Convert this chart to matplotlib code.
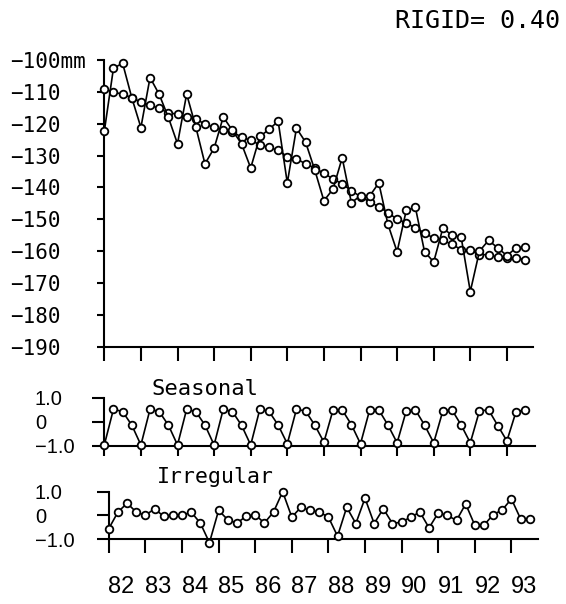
import numpy as np
import matplotlib.pyplot as plt

# quarterly data, 1982 Q1 .. 1993 Q3 (47 points)
years = np.arange(82, 94)

observed = [-122.4, -102.6, -101.0, -111.8, -121.2, -105.5, -110.8, -118.0,
            -126.3, -110.7, -121.0, -132.6, -127.7, -117.9, -122.1, -126.3,
            -133.9, -124.0, -121.8, -119.2, -138.6, -121.4, -125.8, -134.5,
            -144.2, -140.5, -130.7, -144.8, -142.6, -142.7, -138.6, -151.6,
            -160.2, -147.2, -146.3, -160.2, -163.4, -152.8, -155.0, -155.6,
            -172.7, -160.0, -156.6, -159.0, -161.4, -159.0, -158.7]

trend = [-109.2, -110.0, -110.8, -111.8, -113.2, -114.2, -115.2, -116.6,
         -117.0, -117.9, -118.4, -120.2, -121.1, -122.1, -122.6, -124.2,
         -125.2, -126.6, -127.4, -128.4, -130.3, -131.0, -132.6, -133.9,
         -135.6, -137.3, -138.9, -141.0, -142.9, -144.5, -146.1, -147.9,
         -150.0, -151.1, -152.8, -154.2, -156.0, -156.6, -157.9, -159.5,
         -159.8, -161.1, -161.1, -161.9, -162.3, -162.1, -162.7]

seasonal = [-0.97, 0.52, 0.42, -0.14,
            -0.97, 0.52, 0.42, -0.14,
            -0.97, 0.52, 0.42, -0.14,
            -0.97, 0.52, 0.42, -0.15,
            -0.97, 0.52, 0.43, -0.14,
            -0.92, 0.52, 0.44, -0.14,
            -0.85, 0.49, 0.49, -0.12,
            -0.92, 0.49, 0.49, -0.14,
            -0.88, 0.45, 0.49, -0.14,
            -0.88, 0.45, 0.49, -0.14,
            -0.88, 0.45, 0.49, -0.16,
            -0.80, 0.42, 0.49]

irregular = [-0.55, 0.14, 0.51, 0.14, 0.0, 0.28, -0.04, 0.03, 0.0, 0.14,
             -0.32, -1.14, 0.21, -0.18, -0.32, -0.04, 0.03, -0.32, 0.14, 0.99,
             -0.07, 0.34, 0.21, 0.14, -0.07, -0.87, 0.34, -0.34, 0.72, -0.34,
             0.28, -0.34, -0.28, -0.07, 0.14, -0.52, 0.1, 0.0, -0.21, 0.48,
             -0.41, -0.41, 0.03, 0.23, 0.69, -0.14, -0.14]

t = 82 + np.arange(len(observed)) / 4

W, H = 566, 604
fig = plt.figure(figsize=(W / 100, H / 100), dpi=100)
sans = ['Liberation Sans', 'DejaVu Sans']
mono = ['DejaVu Sans Mono']
PT = 0.72  # px -> pt at 100 dpi


def box(l, top, r, b):
    return [l / W, 1 - b / H, (r - l) / W, (b - top) / H]


def setup(ax, left_px, ylim, yticks, ylabels, label_left, xlen, ylen, fam, fs):
    ax.set_xlim(82, 82 + (ax.get_position().x1 * W - left_px) / 36.6)
    ax.set_ylim(*ylim)
    for s in ['top', 'right']:
        ax.spines[s].set_visible(False)
    for s in ['left', 'bottom']:
        ax.spines[s].set_linewidth(1.5)
    ax.set_xticks(years, labels=[])
    ax.tick_params(axis='x', direction='out', length=xlen * PT, width=1.5)
    ax.set_yticks(yticks, labels=ylabels, ha='left', fontfamily=fam, fontsize=fs)
    pad = (left_px - ylen - label_left) * PT
    ax.tick_params(axis='y', direction='out', length=ylen * PT, width=1.5, pad=pad)


def draw(ax, y):
    ax.plot(t, y, '-o', color='k', lw=1.2, ms=5.5, mfc='white', mew=1.3,
            clip_on=False, zorder=3)


# main panel
ax = fig.add_axes(box(104.3, 60, 533, 346.7))
setup(ax, 104.3, (-190, -100), np.arange(-100, -191, -10),
      ['−100mm'] + ['−%d' % v for v in range(110, 191, 10)],
      10, 14, 7, mono, 15)
draw(ax, trend)
draw(ax, observed)

# seasonal panel
ax2 = fig.add_axes(box(104.3, 397.7, 535, 445.7))
setup(ax2, 104.3, (-1.0, 1.0), [1.0, 0, -1.0], ['1.0', '0', '−1.0'],
      35, 10, 12, sans, 14.5)
draw(ax2, seasonal)

# irregular panel
ax3 = fig.add_axes(box(108.8, 491.5, 538, 539.3))
setup(ax3, 108.8, (-1.0, 1.0), [1.0, 0, -1.0], ['1.0', '0', '−1.0'],
      35, 14, 12, sans, 14.5)
draw(ax3, irregular)
ax3.set_xticks(years + 0.35, labels=[str(y) for y in years], minor=True,
               fontsize=17, fontfamily=sans)
ax3.tick_params(axis='x', which='minor', length=0, pad=37 * PT)

fig.text(151.7 / W, 1 - 395 / H, 'Seasonal', fontsize=16, family=mono,
         va='baseline', ha='left')
fig.text(156.7 / W, 1 - 483 / H, 'Irregular', fontsize=15.5, family=mono,
         va='baseline', ha='left')
fig.text(560 / W, 1 - 28 / H, 'RIGID= 0.40', fontsize=18, family=mono,
         va='baseline', ha='right')

fig.savefig('out.png', dpi=100)
